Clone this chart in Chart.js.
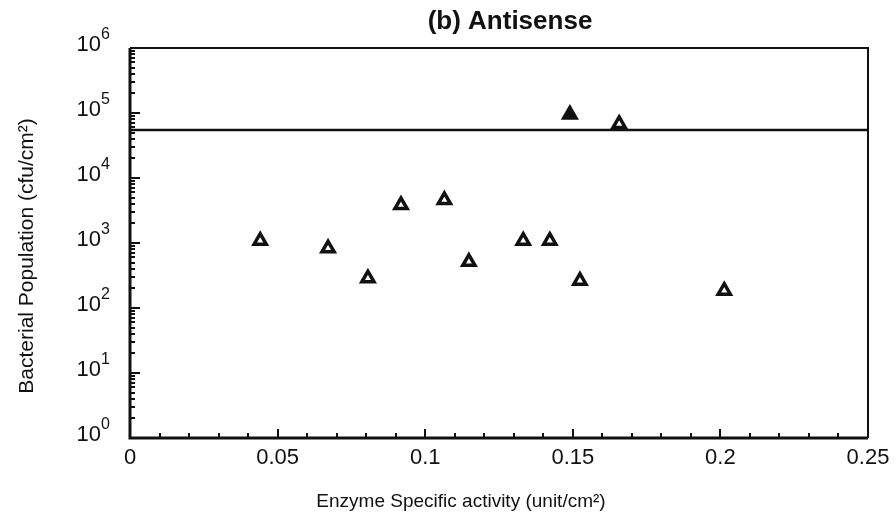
<!DOCTYPE html>
<html>
<head>
<meta charset="utf-8">
<script src="https://cdn.jsdelivr.net/npm/chart.js@4.4.1/dist/chart.umd.min.js"></script>
<style>
  html, body { margin: 0; padding: 0; background: #fff; }
  #wrap { width: 896px; height: 513px; }
</style>
</head>
<body>
<div id="wrap"><canvas id="chart" width="896" height="513"></canvas></div>
<script>
// enzyme specific activity (unit/cm2) vs bacterial population (cfu/cm2)
const activity   = [0.0441, 0.0671, 0.0806, 0.0918, 0.1065, 0.1148, 0.1332, 0.1422, 0.1490, 0.1524, 0.1657, 0.2013];
const population = [1085,   830,    286,    3840,   4570,   513,    1085,   1085,   95000,  263,    68000,  185];
const solidIndex = 8;          // the one marker printed filled
const thresholdLevel = 55000;  // horizontal reference line

const xTicks = [0, 0.05, 0.1, 0.15, 0.2, 0.25];
const xTickLabels = ['0', '0.05', '0.1', '0.15', '0.2', '0.25'];
const yExponents = [0, 1, 2, 3, 4, 5, 6];

const titleText = '(b) Antisense';
const xTitle = 'Enzyme Specific activity (unit/cm\u00B2)';
const yTitle = 'Bacterial Population (cfu/cm\u00B2)';

const FONT = '"Liberation Sans", Arial, Helvetica, sans-serif';
const INK = '#111';

// frame, inward ticks, tick labels and titles
const axesPlugin = {
  id: 'paperAxes',
  afterDraw(chart) {
    const ctx = chart.ctx;
    const a = chart.chartArea;
    const xs = chart.scales.x, ys = chart.scales.y;
    ctx.save();
    ctx.strokeStyle = INK;
    ctx.fillStyle = INK;

    // frame: left & bottom heavier
    ctx.lineWidth = 2;
    ctx.beginPath();
    ctx.moveTo(a.left, a.top); ctx.lineTo(a.right, a.top); ctx.lineTo(a.right, a.bottom);
    ctx.stroke();
    ctx.lineWidth = 3;
    ctx.beginPath();
    ctx.moveTo(a.left, a.top); ctx.lineTo(a.left, a.bottom); ctx.lineTo(a.right, a.bottom);
    ctx.stroke();

    // x ticks every 0.01, long at 0.05
    ctx.lineWidth = 2;
    ctx.beginPath();
    for (let i = 1; i < 25; i++) {
      const px = Math.round(xs.getPixelForValue(i * 0.01));
      const len = i % 5 === 0 ? 9 : 5;
      ctx.moveTo(px, a.bottom); ctx.lineTo(px, a.bottom - len);
    }
    // y ticks: decades long, 2..9 short
    yExponents.forEach(e => {
      if (e > 0 && e < 6) {
        const py = Math.round(ys.getPixelForValue(Math.pow(10, e)));
        ctx.moveTo(a.left, py); ctx.lineTo(a.left + 10, py);
      }
      if (e < 6) {
        for (let m = 2; m <= 9; m++) {
          const py = Math.round(ys.getPixelForValue(m * Math.pow(10, e)));
          ctx.moveTo(a.left, py); ctx.lineTo(a.left + 5, py);
        }
      }
    });
    ctx.stroke();

    // x tick labels
    ctx.font = '22px ' + FONT;
    ctx.textAlign = 'center';
    ctx.textBaseline = 'middle';
    xTicks.forEach((v, i) => {
      ctx.fillText(xTickLabels[i], xs.getPixelForValue(v), a.bottom + 20);
    });

    // y tick labels as 10^n
    yExponents.forEach(e => {
      const py = ys.getPixelForValue(Math.pow(10, e));
      ctx.font = '22px ' + FONT;
      ctx.textAlign = 'right';
      ctx.textBaseline = 'middle';
      ctx.fillText('10', 101, py - 3);
      ctx.font = '16px ' + FONT;
      ctx.textAlign = 'left';
      ctx.fillText(String(e), 101, py - 13);
    });

    // titles
    ctx.textAlign = 'center';
    ctx.textBaseline = 'middle';
    ctx.font = 'bold 26px ' + FONT;
    ctx.fillText(titleText, 510, 22);
    ctx.font = '19px ' + FONT;
    ctx.fillText(xTitle, 461, 502);
    ctx.translate(27, 256);
    ctx.rotate(-Math.PI / 2);
    ctx.font = '21px ' + FONT;
    ctx.fillText(yTitle, 0, 0);
    ctx.restore();
  }
};

const points = activity.map((x, i) => ({ x: x, y: population[i] }));

new Chart(document.getElementById('chart'), {
  type: 'scatter',
  data: {
    datasets: [
      {
        type: 'line',
        data: [{ x: 0, y: thresholdLevel }, { x: 0.25, y: thresholdLevel }],
        borderColor: INK,
        borderWidth: 2.5,
        pointRadius: 0,
        fill: false
      },
      {
        data: points,
        pointStyle: 'triangle',
        pointRadius: 7,
        pointBorderWidth: 3.5,
        pointBorderColor: INK,
        pointBackgroundColor: c => c.dataIndex === solidIndex ? INK : '#fff'
      }
    ]
  },
  options: {
    responsive: false,
    animation: false,
    layout: { padding: { left: 130, top: 48, right: 28, bottom: 75 } },
    plugins: { legend: { display: false }, tooltip: { enabled: false } },
    scales: {
      x: { type: 'linear', min: 0, max: 0.25, display: false },
      y: { type: 'logarithmic', min: 1, max: 1e6, display: false }
    }
  },
  plugins: [axesPlugin]
});
</script>
</body>
</html>
